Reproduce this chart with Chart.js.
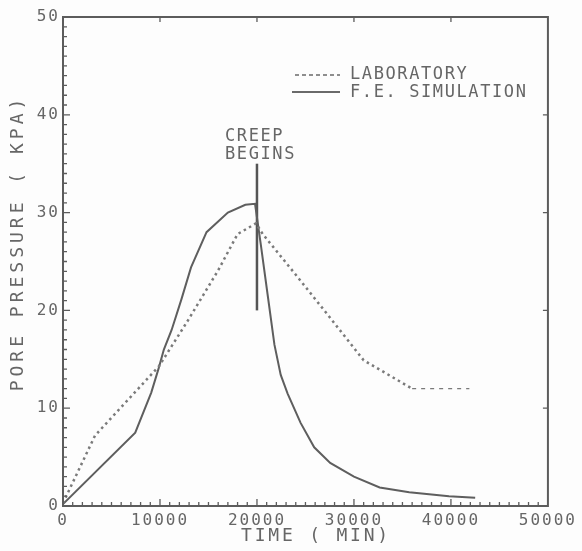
<!DOCTYPE html>
<html><head><meta charset="utf-8">
<script src="https://cdn.jsdelivr.net/npm/chart.js@4/dist/chart.umd.min.js"></script>
<style>html,body{margin:0;padding:0;background:#fdfdfd;} canvas{display:block;}</style>
</head><body>
<canvas id="c" width="582" height="551"></canvas>
<script>
// ---- data ----
const labTime      = [0, 3300, 9900, 12900, 16000, 18000, 19900, 20600, 24200, 27500, 31000, 36000, 41900];
const labPressure  = [0.3, 7.2, 14.3, 19.0, 24.1, 27.8, 28.9, 27.8, 23.4, 19.3, 14.9, 12.0, 12.0];
const simTime      = [0, 7450, 9100, 9900, 10400, 11200, 12200, 13200, 14800, 17000, 18800, 19800, 20400, 21100, 21800, 22450, 23160, 24500, 25900, 27550, 30000, 32650, 35700, 39800, 42500];
const simPressure  = [0.2, 7.5, 11.6, 14.2, 16.0, 18.0, 21.1, 24.4, 28.0, 30.0, 30.8, 30.9, 26.7, 21.6, 16.5, 13.4, 11.5, 8.5, 6.0, 4.4, 3.0, 1.9, 1.4, 1.0, 0.85];
const creepTime     = [20000, 20000];
const creepPressure = [20, 35];
const xTicks = [0, 10000, 20000, 30000, 40000, 50000];
const yTicks = [0, 10, 20, 30, 40, 50];
const seriesNames = ['LABORATORY', 'F.E. SIMULATION'];
const xTitle = 'TIME ( MIN)';
const yTitle = 'PORE PRESSURE ( KPA)';
const creepText = ['CREEP', 'BEGINS'];

const toPts = (xs, ys) => xs.map((x, i) => ({x: x, y: ys[i]}));
const FONT = '"DejaVu Sans Mono", "Liberation Mono", monospace';
const INK = '#5c5c5c';
const TXT = '#666666';

const decor = {
  id: 'decor',
  beforeUpdate(chart) { chart.ctx.letterSpacing = '2px'; },
  beforeDraw(chart) {
    const c = chart.ctx;
    c.save(); c.fillStyle = '#fdfdfd'; c.fillRect(0, 0, chart.width, chart.height); c.restore();
    c.letterSpacing = '2px';
  },
  afterDraw(chart) {
    const c = chart.ctx, a = chart.chartArea, xs = chart.scales.x, ys = chart.scales.y;
    c.save();
    // frame
    c.strokeStyle = INK; c.lineWidth = 2;
    c.strokeRect(a.left, a.top, a.right - a.left, a.bottom - a.top);
    // inward ticks
    c.lineWidth = 1.3; c.beginPath();
    for (let v = 1000; v < 50000; v += 1000) {
      const px = xs.getPixelForValue(v), len = (v % 10000 === 0) ? 7 : 4;
      c.moveTo(px, a.bottom); c.lineTo(px, a.bottom - len);
      if (v % 10000 === 0) { c.moveTo(px, a.top); c.lineTo(px, a.top + 5); }
    }
    for (let v = 1; v < 50; v += 1) {
      const py = ys.getPixelForValue(v), len = (v % 10 === 0) ? 7 : 4;
      c.moveTo(a.left, py); c.lineTo(a.left + len, py);
      if (v % 10 === 0) { c.moveTo(a.right, py); c.lineTo(a.right - 5, py); }
    }
    c.stroke();
    // legend
    c.strokeStyle = '#6a6a6a';
    c.lineWidth = 1.4; c.setLineDash([4, 3]);
    c.beginPath(); c.moveTo(295, 75); c.lineTo(340, 75); c.stroke();
    c.setLineDash([]); c.lineWidth = 2;
    c.beginPath(); c.moveTo(292, 92); c.lineTo(340, 92); c.stroke();
    c.fillStyle = TXT; c.textBaseline = 'middle'; c.textAlign = 'left';
    c.font = '17px ' + FONT; c.letterSpacing = '1.6px';
    c.fillText(seriesNames[0], 350, 75);
    c.fillText(seriesNames[1], 350, 93);
    // creep annotation text
    const cx = xs.getPixelForValue(creepTime[0]) - 32;
    c.fillText(creepText[0], cx, 137);
    c.fillText(creepText[1], cx, 155);
    // axis titles
    c.font = '18px ' + FONT;
    c.textAlign = 'center';
    c.letterSpacing = '2.8px';
    c.fillText(xTitle, 316, 536);
    c.save();
    c.translate(18, 243); c.rotate(-Math.PI / 2);
    c.letterSpacing = '4px';
    c.fillText(yTitle, 0, 0);
    c.restore();
    c.restore();
  }
};

new Chart(document.getElementById('c'), {
  type: 'line',
  data: {
    datasets: [
      {
        label: seriesNames[0], data: toPts(labTime, labPressure),
        borderColor: '#7a7a7a', borderWidth: 2.5, borderDash: [2.5, 3.5],
        pointRadius: 0, tension: 0, fill: false,
        segment: {
          borderDash: ctx => ctx.p0DataIndex === labTime.length - 2 ? [4, 5] : undefined,
          borderWidth: ctx => ctx.p0DataIndex === labTime.length - 2 ? 1.2 : undefined
        }
      },
      {
        label: seriesNames[1], data: toPts(simTime, simPressure),
        borderColor: '#5e5e5e', borderWidth: 2, pointRadius: 0, tension: 0, fill: false
      },
      {
        label: 'creep', data: toPts(creepTime, creepPressure),
        borderColor: '#555555', borderWidth: 2.5, pointRadius: 0, tension: 0, fill: false
      }
    ]
  },
  options: {
    responsive: false, animation: false, devicePixelRatio: 1,
    layout: { padding: { top: 17, right: 29, bottom: 0, left: 0 } },
    plugins: { legend: { display: false }, tooltip: { enabled: false } },
    scales: {
      x: {
        type: 'linear', min: 0, max: 50000,
        grid: { display: false, drawTicks: false }, border: { display: false },
        afterBuildTicks: s => { s.ticks = xTicks.map(v => ({value: v})); },
        afterFit: s => { s.height = 45; },
        ticks: { padding: 5, maxRotation: 0, autoSkip: false, color: TXT,
                 font: { family: FONT, size: 16 }, callback: v => String(v) }
      },
      y: {
        type: 'linear', min: 0, max: 50,
        grid: { display: false, drawTicks: false }, border: { display: false },
        afterBuildTicks: s => { s.ticks = yTicks.map(v => ({value: v})); },
        afterFit: s => { s.width = 63; },
        ticks: { padding: 3, color: TXT, font: { family: FONT, size: 16 }, callback: v => String(v) }
      }
    }
  },
  plugins: [decor]
});
</script>
</body></html>
